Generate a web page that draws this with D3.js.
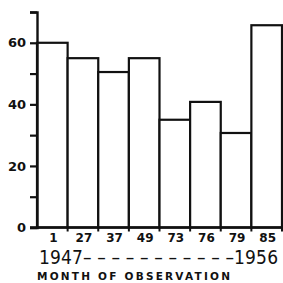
<!DOCTYPE html>
<html>
<head>
<meta charset="utf-8">
<script src="https://cdn.jsdelivr.net/npm/d3@7"></script>
<style>
  body { margin: 0; background: #fff; }
  svg { display: block; }
</style>
</head>
<body>
<div id="chart"></div>
<script>
// month of observation and value for each bar
var months = ["1", "27", "37", "49", "73", "76", "79", "85"];
var values = [60, 55, 50.5, 55, 35, 40.8, 30.7, 65.7];
var yTicks = [0, 10, 20, 30, 40, 50, 60, 70];
var yLabels = [0, 20, 40, 60];

const width = 283, height = 283;
const margin = {top: 12, right: 1, bottom: 55, left: 37};

const svg = d3.select("#chart").append("svg")
    .attr("width", width)
    .attr("height", height);

const xScale = d3.scaleBand()
    .domain(months)
    .range([margin.left, width - margin.right])
    .padding(0);

const yScale = d3.scaleLinear()
    .domain([0, 70])
    .range([height - margin.bottom - 0.5, margin.top]);

const g = svg.append("g");

// bars
g.selectAll("rect.bar")
    .data(values)
    .enter().append("rect")
    .attr("class", "bar")
    .attr("x", (d, i) => xScale(months[i]))
    .attr("y", d => yScale(d))
    .attr("width", xScale.bandwidth())
    .attr("height", d => yScale(0) - yScale(d))
    .attr("fill", "#fff")
    .attr("stroke", "#111")
    .attr("stroke-width", 2.2);

// y axis
const yAxis = d3.axisLeft(yScale)
    .tickValues(yTicks)
    .tickSize(7)
    .tickPadding(4)
    .tickFormat(d => yLabels.includes(d) ? d : "");

g.append("g")
    .attr("transform", `translate(${margin.left},0)`)
    .call(yAxis)
    .call(a => a.select(".domain").attr("stroke-width", 2.4).attr("stroke", "#111"))
    .call(a => a.selectAll(".tick line").attr("stroke-width", 2.2).attr("stroke", "#111"))
    .call(a => a.selectAll(".tick text")
        .attr("font-family", "DejaVu Sans")
        .attr("font-weight", "bold")
        .attr("font-size", 13)
        .attr("fill", "#111"));

// x axis baseline with small ticks at bar boundaries
const base = yScale(0);
g.append("line")
    .attr("x1", margin.left - 7).attr("x2", width)
    .attr("y1", base).attr("y2", base)
    .attr("stroke", "#111").attr("stroke-width", 2.4);

const bounds = months.map(m => xScale(m) + xScale.bandwidth());
g.selectAll("line.xtick")
    .data(bounds)
    .enter().append("line")
    .attr("class", "xtick")
    .attr("x1", d => d).attr("x2", d => d)
    .attr("y1", base).attr("y2", base + 4)
    .attr("stroke", "#111").attr("stroke-width", 2);

// month labels
g.selectAll("text.month")
    .data(months)
    .enter().append("text")
    .attr("class", "month")
    .attr("x", d => xScale(d) + xScale.bandwidth() / 2 + 1)
    .attr("y", base + 14)
    .attr("text-anchor", "middle")
    .attr("font-family", "DejaVu Sans")
    .attr("font-weight", "bold")
    .attr("font-size", 12)
    .attr("fill", "#111")
    .text(d => d);

// year span
g.append("text")
    .attr("x", 39)
    .attr("y", 264)
    .attr("font-family", "DejaVu Sans Condensed, DejaVu Sans")
    .attr("font-weight", 200)
    .attr("font-size", 19)
    .attr("fill", "#111")
    .attr("textLength", 239)
    .attr("lengthAdjust", "spacing")
    .text("1947– – – – – – – – – – –1956");

g.append("text")
    .attr("x", 37)
    .attr("y", 280)
    .attr("font-family", "DejaVu Sans")
    .attr("font-weight", "bold")
    .attr("font-size", 10.5)
    .attr("fill", "#111")
    .attr("textLength", 193)
    .attr("lengthAdjust", "spacing")
    .text("MONTH OF OBSERVATION");
</script>
</body>
</html>
